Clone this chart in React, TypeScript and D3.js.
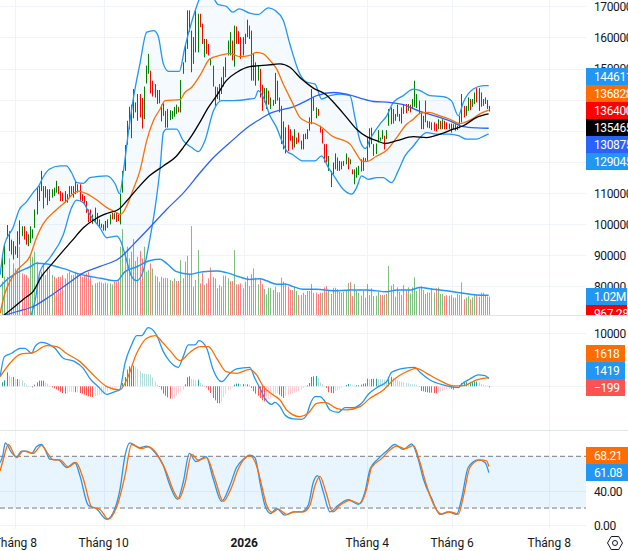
import React, { useEffect, useRef } from "react";
import * as d3 from "d3";

// prices are in thousands, volumes in millions
const barHigh = [
  89.3, 93.4, 99.7, 97.7, 95, 94.5, 92.9, 97.7, 101.2, 99.3,
  99.3, 97.7, 96.7, 99.3, 98.3, 104.7, 111.7, 112.2, 117.1, 112.2,
  112.2, 111.2, 111.2, 111.2, 111.7, 113.9, 112.2, 110.6, 110.1, 110.6,
  109.6, 112.2, 112.2, 112.2, 114.1, 112.8, 112.8, 109.6, 109, 107.4,
  104.7, 104.7, 103.1, 105.3, 103.6, 101.5, 100.1, 99.9, 101, 101.5,
  103.1, 103.6, 103.6, 103.6, 103.1, 109.8, 117.1, 125.4, 133.2, 137.7,
  138.4, 143.4, 139.1, 141.8, 141.8, 140.5, 144.2, 150.9, 154.7, 149.3,
  146.1, 145, 143.1, 143.1, 138.4, 138.8, 136.4, 137, 136.6, 136.4,
  137.7, 138.4, 137.7, 146.3, 152, 157.7, 168.7, 168.7, 162.2, 160.1,
  168.7, 167.6, 167.6, 164.4, 159.5, 159.5, 157.9, 153.1, 150.9, 144.2,
  144, 145, 147.2, 150.6, 153.6, 159, 161.7, 159, 163.8, 163.5,
  162, 160.1, 160.1, 161.2, 165.7, 163.8, 162.2, 154.7, 152, 151,
  149.9, 144.8, 143.7, 143.7, 142.9, 140.7, 139.9, 148.6, 146.1, 140.7,
  138, 133, 131.1, 131.9, 130.5, 128.4, 130.5, 127.8, 129.4, 126.8,
  128.9, 129.1, 130.5, 134.3, 143.4, 140.7, 137.5, 137, 131.6, 130.5,
  125.7, 125.7, 121.9, 117.1, 119.8, 122.7, 121.4, 120.3, 120.1, 120.3,
  122.7, 121.4, 120.8, 117.6, 117.6, 118.2, 118.7, 120.8, 121.4, 121.2,
  127.8, 130.8, 131, 125.7, 125.9, 130.2, 127.8, 130.2, 128.4, 130.2,
  137, 137.5, 137, 135.4, 138.4, 135.4, 137.5, 138.6, 138.6, 138.6,
  138.4, 140.2, 146.1, 141.8, 139.7, 135.9, 134.8, 139.7, 133.2, 133,
  132.7, 132.7, 132.3, 133.7, 133.2, 133.7, 133.2, 132.7, 132.3, 132.3,
  132.1, 132.1, 131.6, 134.8, 141.8, 138, 138, 140.7, 140.2, 140.2,
  142.3, 143.7, 143.7, 142.3, 140.2, 140.7, 139.9, 138,
];
const barLow = [
  82.7, 87, 95.4, 91.3, 90.2, 88.6, 90.2, 89.1, 93.4, 96.1,
  95, 93.4, 92.9, 93.9, 95.4, 98.8, 103.1, 107.4, 110.6, 105,
  108.5, 106.1, 107.4, 108.5, 109, 110.1, 109.6, 107.4, 107.4, 106.9,
  106.9, 108.5, 109.6, 108.5, 109.6, 110.1, 107.4, 107.4, 106.3, 103.6,
  100.6, 101, 100.1, 100.4, 99.7, 98.8, 98.8, 97.9, 97.9, 98.8,
  99.9, 101.5, 101.5, 100.7, 101, 99.9, 110.1, 117.1, 125.5, 130.5,
  127.6, 134, 135.9, 133.2, 134.3, 130.7, 133.7, 145.2, 148.3, 142,
  141, 140.7, 138.6, 138.8, 133, 134.8, 131, 131, 133.4, 133.7,
  134.5, 135.4, 135.9, 135.9, 148.3, 152, 156.3, 161.7, 148.8, 151.5,
  155.2, 155.2, 163.3, 157.9, 153.6, 154.7, 154.2, 151, 144.2, 138,
  140.2, 139.7, 141.8, 144.2, 147.2, 154.2, 154.2, 152.6, 150.6, 157.9,
  157.9, 153.1, 154.2, 157.9, 160.1, 159.5, 146.1, 146.1, 144.5, 146.1,
  140.7, 136.4, 139.1, 137, 138.4, 137, 138, 138.6, 139.7, 135.9,
  125.7, 124, 122.7, 123.5, 126.8, 124, 124.6, 125.7, 126.2, 124,
  124, 127.3, 127.3, 130, 132.1, 136.4, 134, 134.8, 129.4, 125.9,
  119.8, 119.8, 117.1, 111.9, 116, 117.6, 117.1, 117.1, 117.6, 118.7,
  119.2, 117.6, 119.2, 116, 112.8, 114.9, 115.8, 116.9, 117.1, 120.1,
  120.3, 124.6, 125.7, 121.9, 122.5, 126.2, 126.8, 127.3, 124, 127.3,
  131.6, 132.1, 132.3, 133.2, 134.5, 133, 132.3, 135.4, 135.6, 136.4,
  135.9, 137, 137.7, 137.3, 135.6, 130.5, 130.5, 132.7, 131, 130.8,
  130.2, 130, 129.8, 130.5, 130.5, 130.5, 130.5, 130.5, 130.5, 129.4,
  130.5, 130, 130.2, 130.8, 132.7, 134.3, 134.8, 136.4, 136.6, 137.7,
  138.6, 139.1, 136.4, 137.7, 138, 138.6, 137, 136.2,
];
const barDir =
  "gggrrgrggg" + "rrgggggrgr" + "grggggrrrr" + "ggrggrrrrr" + "rrggrrrrgg" + "grgrrggggg" +
  "rgggrrgggr" + "rrgrrrrggg" + "ggrggggrrg" + "ggrrgrrgrr" + "gggggggrgr" + "rrgrgrrrrg" +
  "rrggrgggrr" + "rrgrrrgrrr" + "gggggrgrrr" + "rrgrggrrrr" + "grgrgggggr" + "grrgggggrg" +
  "ggrrgrgrrg" + "rgggrrgrrr" + "rrrgrgrrrg" + "rgrggrggrg" + "grgrrrrr";

const volume = [
  1.76, 2.02, 2.02, 2.99, 2.02, 2.73, 2.46, 2.46, 3.61, 2.2,
  2.15, 2.11, 1.94, 3.08, 3.08, 3.34, 2.82, 2.02, 2.29, 2.73,
  2.11, 2.55, 2.46, 2.11, 2.02, 1.94, 2.02, 2.02, 2.11, 1.94,
  2.2, 2.29, 2.11, 2.11, 2.29, 2.2, 2.2, 2.02, 2.11, 2.2,
  2.29, 2.02, 1.58, 1.67, 1.72, 1.76, 1.72, 1.67, 1.72, 1.67,
  1.67, 1.62, 1.76, 1.76, 1.85, 3.61, 4.54, 3.26, 3.61, 2.99,
  3.34, 4.01, 2.85, 3.08, 3.38, 2.99, 3.61, 2.29, 2.38, 2.73,
  2.46, 2.08, 2.02, 1.76, 2.02, 1.94, 1.97, 1.94, 1.85, 1.8,
  1.94, 1.8, 1.8, 2.9, 1.94, 2.82, 3.13, 2.11, 4.7, 1.5,
  1.85, 3.43, 1.67, 2.25, 1.58, 1.67, 1.94, 2.5, 2.02, 1.94,
  1.41, 1.58, 1.5, 2.08, 2.08, 1.94, 1.8, 1.8, 3.43, 1.62,
  1.62, 1.67, 1.41, 1.76, 2.06, 1.53, 2.16, 2.46, 1.97, 1.62,
  1.9, 1.62, 1.37, 1.09, 1.44, 1.44, 1.32, 1.5, 1.2, 1.2,
  1.97, 1.76, 1.67, 1.5, 1.32, 1.32, 1.5, 1.27, 1.06, 1.06,
  1.18, 1.06, 1.27, 1.27, 1.64, 1.18, 1.18, 1.11, 1.18, 1.18,
  1.46, 1.53, 1.27, 1.11, 1.44, 1.44, 1.36, 1.23, 1.18, 1.23,
  1.27, 1.69, 1.74, 1, 1.64, 1.27, 1.18, 1.02, 1.27, 0.92,
  1.64, 1.06, 1.41, 1, 1.02, 1.23, 1.06, 1.06, 1.06, 1.11,
  2.59, 1.55, 1.64, 0.97, 1.46, 1.23, 1.06, 1.58, 1.32, 1.46,
  1.14, 1.46, 1.99, 1.27, 1.41, 1.53, 1.32, 1.11, 1.2, 1.18,
  1.41, 1.18, 1.41, 1.46, 1.11, 1.11, 1, 1.06, 1.02, 1.06,
  0.92, 0.92, 1.11, 1.06, 1.72, 0.84, 0.92, 1, 0.83, 0.93,
  1.11, 1.06, 0.97, 1.18, 1.18, 1.06, 0.97, 0.97,
];
const volumeDir =
  "ggrrggrgrr" + "rrrggggrrr" + "rgrgrrrrrr" + "ggrggrrrrr" + "rrgrgrgggr" + "ggrrrggggg" +
  "ggrgrrgggr" + "gggrrrrggr" + "grrggggrrg" + "ggrrgrrrrr" + "ggrgggrrgr" + "rrgggrrrrg" +
  "rrgggggggr" + "rrrrrrggrr" + "gggggrrrrg" + "rrggggrgrg" + "ggrrgggggr" + "ggrgggrrgr" +
  "grrrgrrgrg" + "ggggrrrrrr" + "ggrgggrrrr" + "rrgggrggrg" + "grrrrrrr";

const macdHist = [
  756, 1134, 2646, 2079, 1764, 1764, 1386, 1386, 1260, 1134,
  630, 315, 126, 63, -189, 315, 756, 1071, 1071, 1071,
  756, 504, 126, -189, -378, -567, -756, -1008, -1260, -1386,
  -1386, -1134, -1071, -1071, -1134, -1134, -1260, -1386, -1575, -1701,
  -1890, -1953, -2016, -1890, -1764, -1638, -1512, -1386, -1260, -1008,
  -630, -378, -189, -126, -63, 126, 630, 1764, 3150, 3780,
  3780, 3906, 3654, 3276, 2898, 2520, 2394, 2331, 2268, 2205,
  1638, 882, 252, -126, -630, -1386, -1764, -2079, -2331, -2331,
  -2268, -1764, -1386, -1008, -630, 378, 1701, 1890, 1386, 1260,
  1134, 1260, 630, 315, -63, -189, -756, -1260, -2205, -2646,
  -3150, -3213, -3024, -2079, -1386, -756, -504, -126, 315, 504,
  504, 441, 441, 378, 378, 315, -315, -945, -1386, -1764,
  -2205, -2646, -2835, -2520, -2394, -2205, -1764, -1386, -1260, -1575,
  -1890, -2205, -1764, -1638, -1512, -1386, -1197, -1008, -882, -630,
  -315, -126, 189, 630, 1764, 1890, 1953, 1575, 756, 441,
  126, -315, -1134, -1260, -1323, -882, -756, -567, -315, -63,
  252, 441, 378, 189, 126, 189, 210, 315, 504, 567,
  1449, 1260, 1386, 1449, 1449, 1386, 1323, 1300, 1260, 1200,
  1764, 1800, 1638, 1386, 1134, 945, 882, 756, 630, 567,
  441, 378, 360, 315, -63, -882, -945, -1071, -1134, -1197,
  -1200, -1260, -1323, -1134, -1008, -882, -693, -567, -441, -504,
  -630, -378, -126, 189, 630, 756, 780, 630, 756, 819,
  882, 900, 756, 441, 315, 189, 126, -199,
];

// line series: [bar number, value]
const bandUpper = [
  [-1, 83.7], [1, 93.4], [5, 98.8], [8, 104.7], [11, 106.9], [15, 110.6], [17, 112.2], [19, 114.9], [22, 117.6], [27, 118.7],
  [30, 118.7], [32.5, 116.5], [35, 113.3], [38, 113.1], [41, 114.9], [49, 115.5], [53, 112.8], [55, 109.8], [57, 118.2], [59, 128.9],
  [61.5, 140.7], [64.5, 151.5], [67.7, 161.7], [71, 162.2], [73, 160.6], [75.5, 151.5], [78, 149.1], [83, 149.1], [85.6, 156.9], [89, 165.5],
  [91, 169.8], [92.7, 172.4], [99, 172.4], [101, 170.6], [105, 170], [108, 168.1], [111, 169.2], [116, 167.8], [120, 167.4], [124.7, 169.5],
  [127.8, 168.7], [131.7, 165.5], [134.8, 157.9], [139.5, 148.2], [142.7, 145.6], [146.6, 145], [149.7, 140.2], [153.6, 141.3], [158.3, 141.8], [163, 141.3],
  [165.3, 134.3], [167.7, 126.8], [170.3, 124.3], [172.4, 127.3], [177, 132.1], [180.2, 134.8], [183.3, 139.1], [188, 141.3], [192.7, 143.4], [195.8, 142.9],
  [200.5, 141.3], [206.7, 141], [210.6, 139.6], [213.8, 134.8], [216.1, 139.1], [220.8, 143.4], [225.5, 144.5], [228, 144.5],
];
const bandLower = [
  [-1, 50], [13.4, 70.3], [15.6, 76.2], [17.7, 84.8], [22.3, 89.1], [28.6, 96.6], [32.5, 105.3], [34.8, 107.7], [38, 106.9], [41, 103.1],
  [45.8, 98.8], [49, 95.6], [53.6, 96.1], [55.5, 94.5], [57.5, 90.2], [60.6, 83.2], [63, 81.8], [66, 84.8], [69, 94.5], [72.3, 108.5],
  [74, 118.2], [75.5, 129.4], [77, 130.5], [81.7, 130.5], [84.8, 126.8], [88.8, 124.6], [92, 123.3], [95, 126.8], [99, 136.4], [102.8, 139.7],
  [108.3, 139.7], [116, 140.2], [118.4, 140.5], [120, 142.9], [122.4, 140.7], [125.5, 134.8], [128.6, 131], [131, 126.8], [133.3, 123.5], [136.4, 122.2],
  [141, 120.3], [146.6, 120.3], [149.7, 121.9], [152.8, 118.2], [156, 114.9], [159.8, 111.2], [163.8, 109.6], [166.1, 111.7], [168.4, 115.5], [171.6, 114.4],
  [175.5, 114.9], [178.6, 114.9], [182.5, 113.3], [185.6, 117.1], [188.8, 121.9], [192.7, 125.1], [195.8, 127.8], [198.9, 129.4], [203.6, 128.9], [209.8, 128.9],
  [213.8, 128.4], [217.7, 127.3], [222.4, 127.3], [227, 128.7], [228, 128.9],
];
const bandMid = [
  [-1, 71.4], [1, 77.3], [3.6, 81.6], [8, 85.9], [13, 89.7], [16, 95.6], [19, 99.9], [25.5, 104.7], [30, 107.4], [33, 109.6],
  [35.6, 110.6], [39.5, 109.8], [44, 107.9], [49, 105.3], [53, 103.9], [55.5, 103.1], [58.3, 105.8], [61.4, 111.2], [64.5, 117.1], [67.7, 126.8],
  [70.8, 133.2], [74, 137], [76.3, 139.7], [83.3, 140], [85.6, 142.3], [88.8, 144], [92.6, 147.7], [97.3, 153.1], [102, 154.2], [106.7, 154.9],
  [111.4, 153.8], [116, 154.2], [119.2, 155.2], [122.4, 154.7], [125.5, 152.6], [128.6, 149.9], [131.7, 145], [135.6, 139.6], [139.5, 134.3], [143.4, 132.7],
  [146.6, 132.3], [149.7, 131.1], [154.4, 128.4], [163, 125.7], [166.1, 122.5], [168.4, 120.3], [170.8, 120.1], [175.5, 121.9], [180.2, 123.7], [184.9, 127.8],
  [189.5, 132.1], [192.7, 133.7], [195.8, 135.6], [199.7, 135.9], [205.2, 134.8], [209.8, 133.7], [214.5, 132.3], [219.2, 133.4], [223.9, 135.4], [228, 136.6],
];
const maBlack = [
  [0, 70.3], [5, 73], [10.6, 76.2], [14.5, 78.4], [18.4, 83.2], [22.3, 86.4], [27, 90.2], [32.5, 94.5], [38, 98.8], [44, 101.8],
  [49, 103.4], [54.4, 104.7], [58.3, 107.4], [63.7, 111.7], [69, 115.5], [75.5, 118.7], [81.7, 121.9], [84.8, 124.6], [88.8, 128.4], [92.6, 132.7],
  [96.6, 137.5], [100.5, 141.3], [105, 146.1], [110, 148.8], [116, 150.6], [120.8, 150.9], [127, 151.3], [130.2, 151.5], [134.8, 150.4], [140.3, 146.6],
  [145.8, 143.7], [151.3, 141.8], [156, 138.6], [161.4, 134.3], [166.1, 130.5], [170.8, 128.1], [175.5, 126.8], [179.4, 125.9], [184.9, 126.8], [192.7, 128.1],
  [198.9, 127.8], [205.2, 128.9], [211.4, 130.5], [216.1, 131.6], [222.4, 134.3], [228, 135.4],
];
const maBlue = [
  [-1, 70.3], [7, 71.9], [14.5, 73.5], [22.3, 76.8], [30, 80.5], [38, 84.3], [45.8, 86.4], [55, 89.1], [61.4, 93.4], [69, 98.8],
  [77, 104.7], [85, 110.1], [92.7, 116.5], [99, 121.4], [106.7, 126.2], [116, 131.6], [120.8, 133.7], [125.5, 135.6], [130.2, 136.6], [136.4, 137.7],
  [141, 139.1], [147.4, 141.3], [155.2, 142.3], [161.4, 141.8], [167.7, 140.5], [173.9, 139.4], [181.7, 139.1], [188, 138.4], [195.8, 136.2], [203.6, 134.6],
  [209.8, 133.2], [216.1, 131.3], [222.4, 130.9], [228, 130.8],
];
const volumeMa = [
  [-1, 1.5], [2, 1.85], [8, 2.29], [13, 2.55], [16, 2.73], [21, 2.69], [25.5, 2.55], [30, 2.41], [35, 2.2], [40, 2.06],
  [46, 1.94], [53.6, 1.81], [57.5, 2.29], [63, 2.55], [69, 2.87], [74, 2.94], [77, 2.73], [81.7, 2.29], [88, 2.16], [94, 2.29],
  [100.5, 2.32], [105, 2.24], [111, 2.02], [116, 1.88], [120.8, 1.92], [123.9, 1.81], [128.6, 1.62], [132.5, 1.64], [136.4, 1.5], [141, 1.36],
  [147.4, 1.36], [155.2, 1.28], [163, 1.32], [170.8, 1.32], [180.2, 1.23], [184.9, 1.32], [191.1, 1.32], [195.8, 1.46], [202, 1.36], [208.3, 1.28],
  [214.5, 1.18], [222.4, 1.06], [228, 1.04],
];
const macdLine = [
  [-1, 1824], [1, 5598], [4.4, 6227], [8.3, 7171], [10.6, 7171], [13.8, 6227], [15.3, 7485], [18.4, 8303], [20.8, 8114], [24.7, 7171],
  [28.6, 5284], [34, 4655], [38, 3397], [41, 1510], [45, -63], [49, -1510], [52.8, -1006], [55, -692], [57.5, 4340], [60.6, 7800],
  [63, 9561], [65.3, 9561], [68.4, 11070], [72.3, 9687], [75.5, 6542], [78.6, 4655], [82.5, 3585], [84.8, 5598], [87.2, 7800], [90.3, 7800],
  [92.2, 8617], [95.8, 7171], [98.9, 3082], [102.8, 881], [106.7, 2453], [109.8, 3271], [116, 3585], [118.4, 1510], [120.8, -377], [123.1, -2264],
  [126.3, -3397], [127.8, -3019], [130.2, -3837], [132.5, -5409], [136.4, -6164], [140.3, -6227], [142.7, -5409], [144.2, -3522], [146.6, -1950], [148.9, -1950],
  [151.3, -2893], [153.6, -4466], [157.5, -4906], [160.6, -4026], [164.5, -4026], [168.4, -3208], [171.6, -1510], [176.3, -63], [180.2, 881], [182.5, 2642],
  [188, 3397], [193.4, 3585], [195.8, 2642], [200.5, 1195], [206.7, 252], [213.8, -252], [215.3, 377], [219.2, 1384], [223.1, 2139], [226.3, 2013],
  [228.1, 1419],
];
const macdSignal = [
  [-1, 1824], [3.6, 4340], [8.3, 6038], [14.5, 6353], [20.8, 7674], [25.5, 7485], [30, 6227], [36.4, 4655], [42.7, 2139], [49, -63],
  [55, -692], [58.3, 1195], [63, 6227], [67.7, 9058], [71.6, 9561], [75.5, 8114], [78.6, 6730], [83.3, 4843], [88, 6416], [92.7, 7485],
  [96.6, 7485], [100.5, 5284], [105, 2768], [109.8, 2453], [116, 3208], [119.2, 2139], [122.4, -63], [127, -1635], [130.2, -2579], [133.3, -4466],
  [139.5, -5724], [143.4, -5095], [147.4, -3208], [151.3, -3019], [156.7, -4151], [161.4, -4466], [167.7, -3837], [172.4, -2264], [178.6, -692], [183.3, 1195],
  [188, 2453], [194.2, 3397], [198.9, 2453], [205.2, 1069], [211.4, 63], [216.1, 126], [222.4, 1195], [228.1, 1618],
];
const stochK = [
  [-1, 72.8], [0.2, 80.4], [1.4, 95.6], [4.4, 84.2], [6.7, 79.2], [9, 86.1], [11.4, 86.1], [13.8, 83.4], [16, 91.1], [18.4, 93.7],
  [20, 88], [22.3, 76.6], [26.3, 75.8], [30.2, 67], [34, 72.8], [36.4, 57.5], [40.3, 23.2], [44, 19.4], [49, 6.9], [52.8, 19.4],
  [55.2, 42.3], [57.5, 80.4], [59.8, 95.6], [64.5, 89.9], [67.7, 91.8], [71.6, 84.2], [75.5, 69], [78.6, 46.1], [82.2, 30.1], [84.8, 49.9],
  [87.7, 83.4], [90.8, 73.9], [95.5, 79.6], [98.9, 53.7], [102.8, 27.8], [106.7, 46.1], [109.8, 67], [113, 76.6], [116, 81.2], [118.4, 78.5],
  [120.8, 49.9], [123.1, 23.2], [125.8, 13.7], [128.6, 19.4], [132.5, 11.8], [136.4, 15.6], [140.3, 15.6], [143.4, 23.2], [145.8, 49.9], [147.8, 57.5],
  [150.5, 38.5], [153.6, 15.6], [157.5, 23.2], [162.2, 29.7], [166.9, 24.4], [170, 38.5], [172.4, 65.2], [176.3, 77.3], [180.2, 86.1], [184, 93.7],
  [188, 88], [191.9, 94.5], [195, 76.6], [197.4, 53.7], [201.3, 30.9], [205.2, 12.6], [209, 15.6], [213, 12.6], [215.3, 30.9], [218.4, 67],
  [223.1, 75.8], [226.3, 72.8], [228.1, 61.08],
];
const stochD = [
  [-1, 63.2], [0.5, 76.6], [2.8, 93.7], [6.7, 78.5], [9.8, 86.1], [14.5, 83.4], [18.4, 92.6], [21.6, 82.3], [23.9, 75.8], [27, 75.8],
  [31, 67.8], [34.5, 72.8], [38, 53.7], [41.9, 21.3], [45.8, 18.3], [49.7, 7.2], [54.4, 27.1], [57.5, 57.5], [60.6, 93.7], [65.3, 88.8],
  [68.4, 91.1], [72.3, 83.4], [77, 61.3], [80.2, 40.4], [82.8, 30.9], [85.6, 48], [88.8, 82.3], [91.9, 75.4], [95.8, 78.5], [99.7, 53.7],
  [103.6, 27.8], [107.5, 44.2], [110.6, 65.2], [116, 80.4], [119.2, 69], [121.6, 46.1], [123.9, 23.2], [126.7, 14.9], [129.4, 18.7], [133.3, 12.6],
  [137.2, 15.6], [141.1, 15.6], [144.2, 23.2], [146.6, 46.1], [148.9, 56.8], [151.7, 38.5], [154.9, 15.6], [158.3, 23.2], [163, 29], [167.7, 25.1],
  [170.8, 42.3], [173.1, 67], [177.8, 77.3], [181.7, 87.2], [184.9, 91.8], [188.8, 88.8], [192.7, 92.6], [195.8, 72.8], [198.9, 46.1], [202, 25.1],
  [206, 13], [209.9, 15.6], [213.8, 13], [216.1, 32.8], [219.2, 67], [223.9, 75.8], [227, 74.7], [228.1, 68.21],
];

const priceTicks = [170, 160, 150, 140, 130, 120, 110, 100, 90, 80];
const macdTicks = [10000, 0];
const macdTickLabels = ["10000"];
const stochTicks = [40, 0];
const timeBars = [6.1, 47.5, 113.4, 171.1, 210.9, 256.4];
const timeLabels = ["Tháng 8", "Tháng 10", "2026", "Tháng 4", "Tháng 6", "Tháng 8"];

const priceTags = ["144611", "136828", "136400", "135465", "130875", "129045"];
const priceTagColors = ["#2196f3", "#ff6d00", "#ff0000", "#000000", "#2962ff", "#2196f3"];
const volumeTags = ["1.02M", "967.28K"];
const volumeTagColors = ["#2196f3", "#ff0000"];
const macdTags = ["1618", "1419", "−199"];
const macdTagColors = ["#ff6d00", "#2196f3", "#ff5252"];
const stochTags = ["68.21", "61.08"];
const stochTagColors = ["#ff6d00", "#2196f3"];

const WIDTH = 628;
const HEIGHT = 551;
const PLOT_RIGHT = 586;
const FONT = "Roboto, sans-serif";
const TEXT = "#131722";
const GRID = "#f0f3fa";
const SEP = "#e0e3eb";

const App = () => {
  const ref = useRef<SVGSVGElement | null>(null);

  useEffect(() => {
    const svg = d3.select(ref.current);
    svg.selectAll("*").remove();

    const lineX = d3.scaleLinear().domain([0, 228.3]).range([2.3, 489.3]);
    const barX = d3.scaleLinear().domain([0, barHigh.length - 1]).range([2.3, 489.3]);
    const snap = (i: number) => Math.round(barX(i)) + 0.5;

    const priceY = d3.scaleLinear().domain([80, 170]).range([286.3, 6.3]);
    const volumeY = d3.scaleLinear().domain([0, 1.02]).range([315, 295.7]);
    const macdY = d3.scaleLinear().domain([0, 10000]).range([386.3, 333.3]);
    const stochY = d3.scaleLinear().domain([0, 80]).range([525.3, 456.3]);

    const defs = svg.append("defs");
    const clip = (id: string, top: number, bottom: number) =>
      defs.append("clipPath").attr("id", id).append("rect")
        .attr("x", 0).attr("y", top).attr("width", PLOT_RIGHT).attr("height", bottom - top);
    clip("pane-price", 0, 315);
    clip("pane-macd", 316, 430);
    clip("pane-stoch", 431, 529);

    // grid
    const grid = svg.append("g").attr("stroke", GRID).attr("stroke-width", 1);
    timeBars.forEach((b) => {
      const x = Math.round(lineX(b)) + 0.5;
      grid.append("line").attr("x1", x).attr("x2", x).attr("y1", 0).attr("y2", 529);
    });
    const hLine = (y: number) =>
      grid.append("line").attr("x1", 0).attr("x2", PLOT_RIGHT)
        .attr("y1", Math.round(y) + 0.5).attr("y2", Math.round(y) + 0.5);
    priceTicks.forEach((t) => hLine(priceY(t)));
    macdTicks.forEach((t) => hLine(macdY(t)));
    stochTicks.forEach((t) => hLine(stochY(t)));

    const pane1 = svg.append("g").attr("clip-path", "url(#pane-price)");
    const pane2 = svg.append("g").attr("clip-path", "url(#pane-macd)");
    const pane3 = svg.append("g").attr("clip-path", "url(#pane-stoch)");

    const curved = (y: d3.ScaleLinear<number, number>) =>
      d3.line<number[]>().x((d) => lineX(d[0])).y((d) => y(d[1])).curve(d3.curveMonotoneX);
    const drawLine = (g: any, data: number[][], y: any, color: string, w = 1.3) =>
      g.append("path").attr("d", curved(y)(data)).attr("fill", "none")
        .attr("stroke", color).attr("stroke-width", w).attr("stroke-linejoin", "round");

    // bollinger fill
    const fillPts = bandUpper.concat(bandLower.slice().reverse());
    pane1.append("path")
      .attr("d", d3.line<number[]>().x((d) => lineX(d[0])).y((d) => priceY(d[1]))(fillPts))
      .attr("fill", "#2196f3").attr("fill-opacity", 0.05);

    // volume
    pane1.selectAll("rect.vol").data(volume).enter().append("rect")
      .attr("class", "vol")
      .attr("x", (_d, i) => snap(i) - 0.5)
      .attr("width", 1)
      .attr("y", (d) => volumeY(d))
      .attr("height", (d) => 315 - volumeY(d))
      .attr("fill", (_d, i) => (volumeDir[i] === "g" ? "#008000" : "#ff0000"))
      .attr("fill-opacity", 0.5);
    drawLine(pane1, volumeMa, volumeY, "#2196f3", 1.5);

    // candles, one pixel wide at this zoom
    pane1.selectAll("line.bar").data(barHigh).enter().append("line")
      .attr("class", "bar")
      .attr("x1", (_d, i) => snap(i))
      .attr("x2", (_d, i) => snap(i))
      .attr("y1", (d) => priceY(d))
      .attr("y2", (_d, i) => priceY(barLow[i]))
      .attr("stroke", (_d, i) => (barDir[i] === "g" ? "#008000" : "#ff0000"))
      .attr("stroke-width", 1);

    drawLine(pane1, bandUpper, priceY, "#2196f3");
    drawLine(pane1, bandLower, priceY, "#2196f3");
    drawLine(pane1, maBlue, priceY, "#2962ff");
    drawLine(pane1, bandMid, priceY, "#ff6d00");
    drawLine(pane1, maBlack, priceY, "#000000");

    // macd
    const histColor = (i: number) => {
      const v = macdHist[i];
      const prev = i > 0 ? macdHist[i - 1] : 0;
      if (v >= 0) return v >= prev ? "#26a69a" : "#b2dfdb";
      return v < prev ? "#ff5252" : "#ffcdd2";
    };
    pane2.selectAll("rect.hist").data(macdHist).enter().append("rect")
      .attr("class", "hist")
      .attr("x", (_d, i) => snap(i) - 0.5)
      .attr("width", 1)
      .attr("y", (d) => Math.min(macdY(d), macdY(0)))
      .attr("height", (d) => Math.abs(macdY(d) - macdY(0)))
      .attr("fill", (_d, i) => histColor(i));
    drawLine(pane2, macdLine, macdY, "#2196f3");
    drawLine(pane2, macdSignal, macdY, "#ff6d00");

    // stochastic
    pane3.append("rect")
      .attr("x", 0).attr("width", PLOT_RIGHT)
      .attr("y", stochY(80)).attr("height", stochY(20) - stochY(80))
      .attr("fill", "#2196f3").attr("fill-opacity", 0.1);
    [80, 20].forEach((t) => {
      pane3.append("line")
        .attr("x1", 0).attr("x2", PLOT_RIGHT)
        .attr("y1", stochY(t)).attr("y2", stochY(t))
        .attr("stroke", "#787b86").attr("stroke-dasharray", "5 3");
    });
    drawLine(pane3, stochK, stochY, "#2196f3");
    drawLine(pane3, stochD, stochY, "#ff6d00");

    // pane separators
    [315.5, 430.5].forEach((y) => {
      svg.append("line").attr("x1", 0).attr("x2", WIDTH).attr("y1", y).attr("y2", y)
        .attr("stroke", SEP).attr("stroke-width", 1);
    });

    // right scale
    const axis = svg.append("g").attr("font-family", FONT).attr("font-size", 12).attr("fill", TEXT)
      .attr("letter-spacing", "-0.4px");
    const axisText = (y: number, label: string) =>
      axis.append("text").attr("x", 594).attr("y", y).attr("dy", "0.36em").text(label);
    priceTicks.forEach((t) => axisText(priceY(t) + 0.5, String(t * 1000)));
    macdTickLabels.forEach((l) => axisText(macdY(+l) + 0.5, l));
    stochTicks.forEach((t) => axisText(stochY(t) + 0.5, t.toFixed(2)));

    const tags = (labels: string[], colors: string[], top: number, right: number, clipBottom?: number) => {
      labels.forEach((label, i) => {
        const y = top + i * 17;
        const h = clipBottom ? Math.min(17, clipBottom - y) : 17;
        axis.append("rect").attr("x", 586).attr("y", y).attr("width", right - 586).attr("height", h)
          .attr("fill", colors[i]);
        const t = axis.append("text").attr("x", 594).attr("y", y + 8.5).attr("dy", "0.36em")
          .attr("fill", "#ffffff").text(label);
        if (clipBottom && y + 17 > clipBottom) {
          defs.append("clipPath").attr("id", "tag-cut").append("rect")
            .attr("x", 586).attr("y", y).attr("width", 42).attr("height", h);
          t.attr("clip-path", "url(#tag-cut)");
        }
      });
    };
    tags(priceTags, priceTagColors, 68, WIDTH);
    tags(volumeTags, volumeTagColors, 288, 627, 315);
    tags(macdTags, macdTagColors, 345, 625);
    tags(stochTags, stochTagColors, 447, WIDTH);

    // time scale
    const time = svg.append("g").attr("font-family", FONT).attr("font-size", 12).attr("fill", TEXT)
      .attr("text-anchor", "middle");
    timeLabels.forEach((label, i) => {
      time.append("text").attr("x", lineX(timeBars[i])).attr("y", 543).attr("dy", "0.36em")
        .attr("font-weight", label === "2026" ? 700 : 400).text(label);
    });

    // settings hexagon, lower right corner
    const hex = d3.range(6).map((k) => [615 + 7.5 * Math.cos((k * Math.PI) / 3), 543 + 7.5 * Math.sin((k * Math.PI) / 3)] as [number, number]);
    svg.append("path").attr("d", d3.line().curve(d3.curveLinearClosed)(hex))
      .attr("fill", "none").attr("stroke", TEXT).attr("stroke-width", 1);
    svg.append("circle").attr("cx", 615).attr("cy", 543).attr("r", 2.5)
      .attr("fill", "none").attr("stroke", TEXT).attr("stroke-width", 1);
  }, []);

  return (
    <svg
      ref={ref}
      width={WIDTH}
      height={HEIGHT}
      style={{ position: "absolute", left: 0, top: 0, background: "#ffffff" }}
    />
  );
};

export default App;
